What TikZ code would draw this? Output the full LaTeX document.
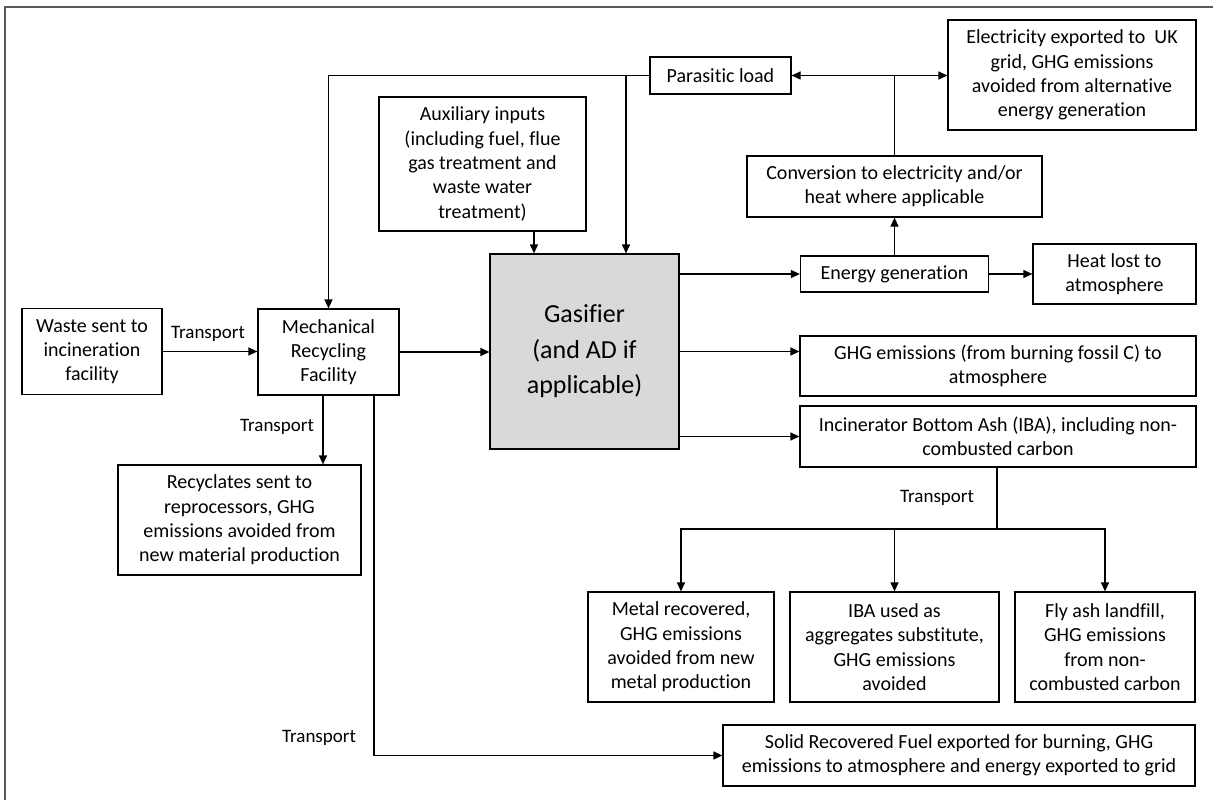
\documentclass[tikz,border=0pt]{standalone}
\usepackage{fontspec}
\setmainfont{Carlito}[Ligatures={NoCommon}]
\usetikzlibrary{arrows.meta,calc}
\definecolor{gasgray}{RGB}{217,217,217}
\definecolor{framegray}{RGB}{90,90,90}
\tikzset{
  box/.style={draw, line width=1.2pt, inner sep=0pt, align=center,
    font=\fontsize{20}{24.3}\selectfont},
  arr/.style={-{Triangle[length=9pt,width=8pt]}, line width=1.2pt},
  plain/.style={line width=1.2pt},
  lbl/.style={font=\fontsize{19}{22}\selectfont, inner sep=0pt}
}
\begin{document}
\begin{tikzpicture}[x=1pt,y=-1pt]
\useasboundingbox (0,0) rectangle (1213,800);
% partial outer frame
\draw[framegray, line width=1.2pt] (5,800) -- (5,7) -- (1213,7);

% nodes
\node[box, minimum width=141, minimum height=37] (park) at (720.5,75.5) {Parasitic load};
\node[box, minimum width=248, minimum height=110] (elec) at (1072,75) {Electricity exported to\ \ UK\\grid, GHG emissions\\avoided from alternative\\energy generation};
\node[box, minimum width=207, minimum height=134] (aux) at (482.5,164) {Auxiliary inputs\\(including fuel, flue\\gas treatment and\\waste water\\treatment)};
\node[box, minimum width=295, minimum height=61] (conv) at (894.5,186.5) {Conversion to electricity and/or\\heat where applicable};
\node[box, minimum width=188, minimum height=36] (egen) at (894.5,274) {Energy generation};
\node[box, minimum width=163, minimum height=60] (heat) at (1114.5,274) {Heat lost to\\atmosphere};
\node[box, fill=gasgray, minimum width=189, minimum height=195, font=\fontsize{26}{35.5}\selectfont] (gas) at (584.5,351.5) {Gasifier\\(and AD if\\applicable)};
\node[box, minimum width=140, minimum height=86] (waste) at (92,351.5) {Waste sent to\\incineration\\facility};
\node[box, minimum width=141, minimum height=86] (mech) at (328.5,352) {Mechanical\\Recycling\\Facility};
\node[box, minimum width=243, minimum height=110] (recyc) at (239.5,520) {Recyclates sent to\\reprocessors, GHG\\emissions avoided from\\new material production};
\node[box, minimum width=396, minimum height=60] (ghg) at (998,366) {GHG emissions (from burning fossil C) to\\atmosphere};
\node[box, minimum width=396, minimum height=61] (iba) at (998,436.5) {Incinerator Bottom Ash (IBA), including non-\\combusted carbon};
\node[box, minimum width=186, minimum height=110] (metal) at (681,647) {Metal recovered,\\GHG emissions\\avoided from new\\metal production};
\node[box, minimum width=209, minimum height=110] (ibau) at (894.5,647) {IBA used as\\aggregates substitute,\\GHG emissions\\avoided};
\node[box, minimum width=180, minimum height=110] (fly) at (1105,647) {Fly ash landfill,\\GHG emissions\\from non-\\combusted carbon};
\node[box, minimum width=472, minimum height=61] (srf) at (959,755.5) {Solid Recovered Fuel exported for burning, GHG\\emissions to atmosphere and energy exported to grid};

% labels
\node[lbl] (t1) at (208,334) {Transport};
\node[lbl] (t2) at (277,427) {Transport};
\node[lbl] (t3) at (319,738) {Transport};
\node[lbl] (t4) at (937,498) {Transport};

% helper coordinates
\coordinate (pj) at (626,75.5);
\coordinate (ax) at (534,0);
\coordinate (m1) at (323,0);
\coordinate (m2) at (374,0);
\coordinate (split) at (997,529);

% connectors
\draw[arr] (park.west) -| (mech.north);
\draw[arr] (pj) -- (pj |- gas.north);
\draw[plain] (conv.north) -- (conv.north |- park.east);
\draw[arr] (conv.north |- park.east) -- (park.east);
\draw[arr] (conv.north |- park.east) -- (elec.west |- park.east);
\draw[arr] (egen.north) -- (conv.south);
\draw[arr] (gas.east |- egen.west) -- (egen.west);
\draw[arr] (egen.east) -- (heat.west);
\draw[arr] (aux.south -| ax) -- (gas.north -| ax);
\draw[arr] (waste.east) -- (waste.east -| mech.west);
\draw[arr] (mech.east) -- (mech.east -| gas.west);
\draw[arr] (mech.south -| m1) -- (recyc.north -| m1);
\draw[arr] (mech.south -| m2) |- (srf.west);
\draw[arr] (gas.east) -- (gas.east -| ghg.west);
\draw[arr] (gas.east |- iba.west) -- (iba.west);
\draw[plain] (iba.south -| split) -- (split);
\draw[arr] (split) -| (metal.north);
\draw[arr] (split) -| (fly.north);
\draw[arr] (ibau.north |- split) -- (ibau.north);
\end{tikzpicture}
\end{document}
